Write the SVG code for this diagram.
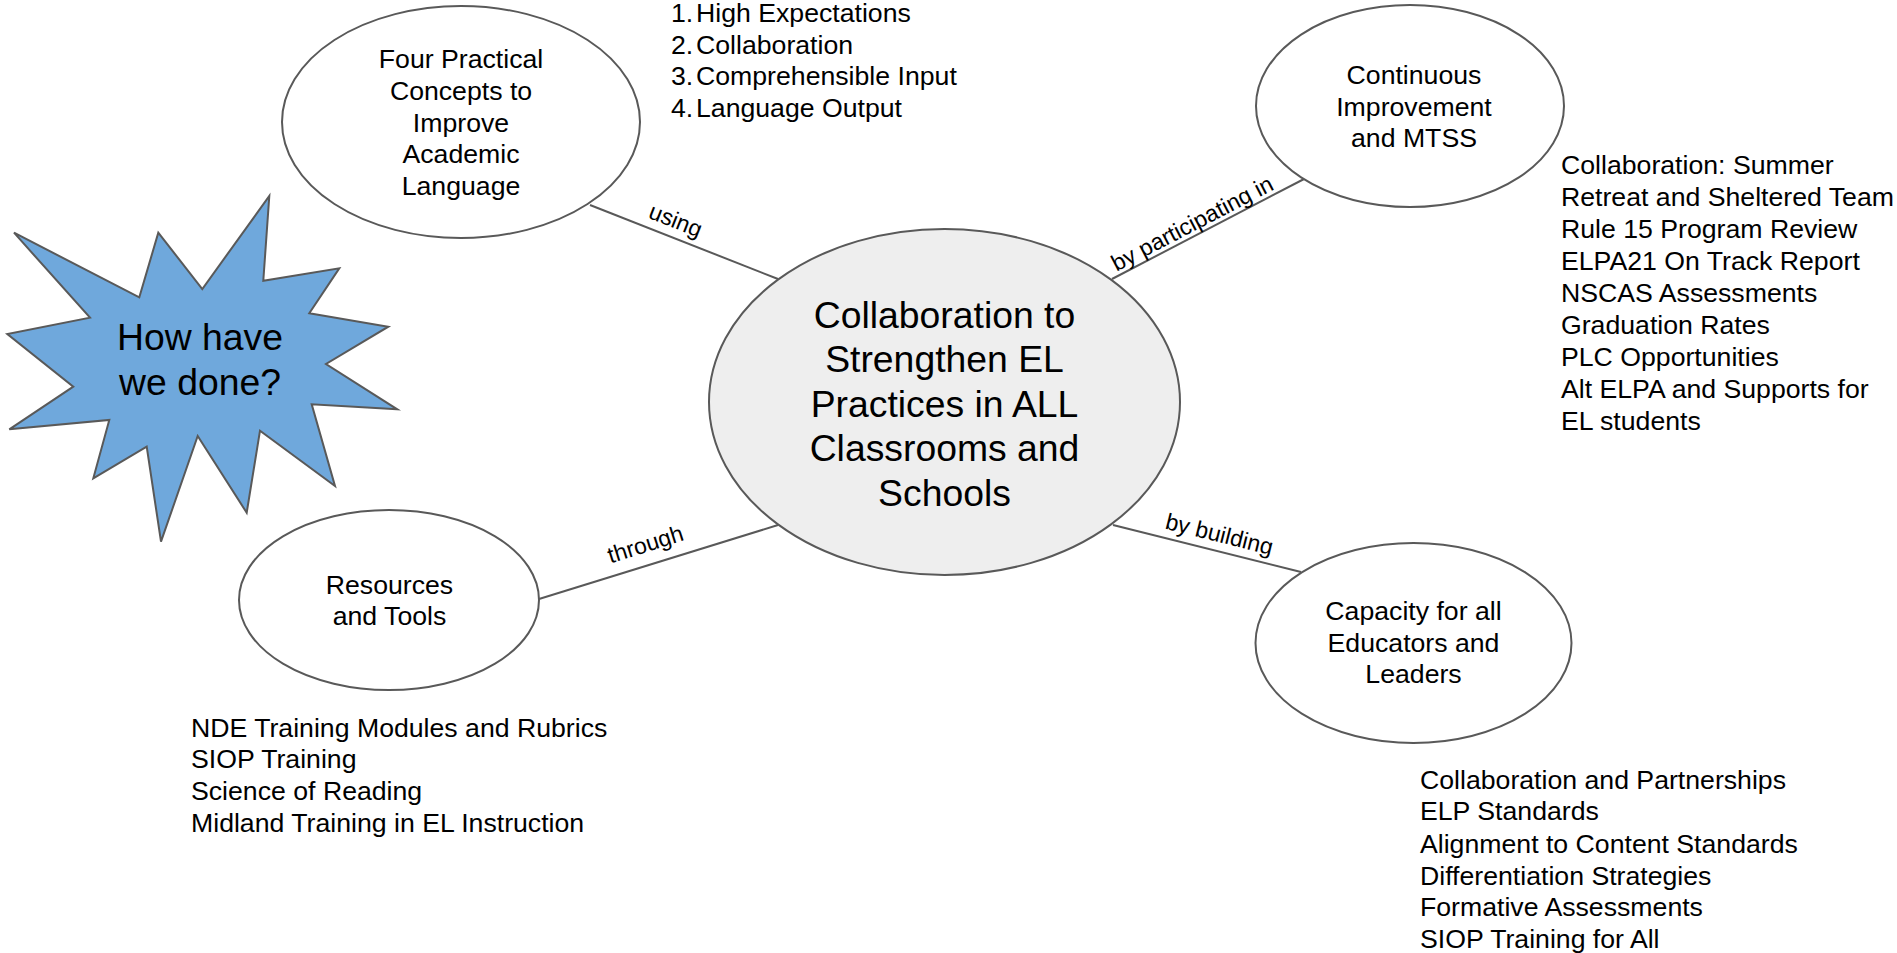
<svg xmlns="http://www.w3.org/2000/svg" width="1897" height="953" viewBox="0 0 1897 953">
  <style>
    text { font-family: "Liberation Sans", Arial, sans-serif; fill: #000; }
    .node { fill: #ffffff; stroke: #595959; stroke-width: 2; }
    .center { fill: #eeeeee; stroke: #595959; stroke-width: 2; }
    .star { fill: #6fa8dc; stroke: #595959; stroke-width: 2; stroke-linejoin: miter; }
    .edge { stroke: #595959; stroke-width: 2; fill: none; }
    .t { font-size: 26.67px; text-anchor: middle; }
    .big { font-size: 37.33px; text-anchor: middle; }
    .lbl { font-size: 23px; text-anchor: middle; }
    .list { font-size: 26.67px; }
  </style>
  <rect width="1897" height="953" fill="#ffffff"/>

  <g id="connectors">
    <line class="edge" x1="590" y1="205" x2="778" y2="279"/>
    <line class="edge" x1="1112" y1="279" x2="1306" y2="178"/>
    <line class="edge" x1="539" y1="599" x2="778" y2="525"/>
    <line class="edge" x1="1113" y1="525" x2="1301" y2="572"/>
    <text class="lbl" transform="translate(675 222) rotate(21.5)" y="6">using</text>
    <text class="lbl" transform="translate(1193 225) rotate(-27.5)" y="6">by participating in</text>
    <text class="lbl" transform="translate(646 546) rotate(-17.5)" y="6">through</text>
    <text class="lbl" transform="translate(1219 536) rotate(14)" y="6">by building</text>
  </g>

  <g id="star">
    <polygon class="star" points="269.3,196 263.3,280.7 339.3,268.3 309.3,313.3 388.3,326.7 326,364 397.3,409.3 311.7,404.3 335,486 260,430.7 246.7,512.7 197.7,436 161,541.7 146.7,446.7 93.3,478.3 109.3,420 9.3,429.3 73.3,386.7 7.3,334 90,317.7 14,232.7 139.3,297.3 158.3,232.7 202.3,289"/>
    <text class="big" x="200" y="350">How have</text>
    <text class="big" x="200" y="395">we done?</text>
  </g>

  <g id="node-four-concepts">
    <ellipse class="node" cx="461" cy="122" rx="179" ry="116"/>
    <text class="t" x="461" y="68">Four Practical</text>
    <text class="t" x="461" y="99.8">Concepts to</text>
    <text class="t" x="461" y="131.6">Improve</text>
    <text class="t" x="461" y="163.4">Academic</text>
    <text class="t" x="461" y="195.2">Language</text>
  </g>

  <g id="list-four-concepts">
    <text class="list" y="22"><tspan x="671">1.</tspan><tspan x="696">High Expectations</tspan></text>
    <text class="list" y="53.5"><tspan x="671">2.</tspan><tspan x="696">Collaboration</tspan></text>
    <text class="list" y="85"><tspan x="671">3.</tspan><tspan x="696">Comprehensible Input</tspan></text>
    <text class="list" y="116.5"><tspan x="671">4.</tspan><tspan x="696">Language Output</tspan></text>
  </g>

  <g id="node-continuous">
    <ellipse class="node" cx="1410" cy="106" rx="154" ry="101"/>
    <text class="t" x="1414" y="84">Continuous</text>
    <text class="t" x="1414" y="115.5">Improvement</text>
    <text class="t" x="1414" y="147">and MTSS</text>
  </g>

  <g id="list-continuous">
    <text class="list" x="1561" y="174">Collaboration: Summer</text>
    <text class="list" x="1561" y="206">Retreat and Sheltered Team</text>
    <text class="list" x="1561" y="238">Rule 15 Program Review</text>
    <text class="list" x="1561" y="270">ELPA21 On Track Report</text>
    <text class="list" x="1561" y="302">NSCAS Assessments</text>
    <text class="list" x="1561" y="334">Graduation Rates</text>
    <text class="list" x="1561" y="366">PLC Opportunities</text>
    <text class="list" x="1561" y="398">Alt ELPA and Supports for</text>
    <text class="list" x="1561" y="430">EL students</text>
  </g>

  <g id="node-center">
    <ellipse class="center" cx="944.5" cy="402" rx="235.5" ry="173"/>
    <text class="big" x="944.5" y="327.5">Collaboration to</text>
    <text class="big" x="944.5" y="372.1">Strengthen EL</text>
    <text class="big" x="944.5" y="416.7">Practices in ALL</text>
    <text class="big" x="944.5" y="461.3">Classrooms and</text>
    <text class="big" x="944.5" y="505.9">Schools</text>
  </g>

  <g id="node-resources">
    <ellipse class="node" cx="389" cy="600" rx="150" ry="90"/>
    <text class="t" x="389.5" y="593.5">Resources</text>
    <text class="t" x="389.5" y="625">and Tools</text>
  </g>

  <g id="list-resources">
    <text class="list" x="191" y="736.5">NDE Training Modules and Rubrics</text>
    <text class="list" x="191" y="768">SIOP Training</text>
    <text class="list" x="191" y="800">Science of Reading</text>
    <text class="list" x="191" y="832">Midland Training in EL Instruction</text>
  </g>

  <g id="node-capacity">
    <ellipse class="node" cx="1413.5" cy="643" rx="158" ry="100"/>
    <text class="t" x="1413.5" y="620">Capacity for all</text>
    <text class="t" x="1413.5" y="651.5">Educators and</text>
    <text class="t" x="1413.5" y="683">Leaders</text>
  </g>

  <g id="list-capacity">
    <text class="list" x="1420" y="788.5">Collaboration and Partnerships</text>
    <text class="list" x="1420" y="820">ELP Standards</text>
    <text class="list" x="1420" y="852.5">Alignment to Content Standards</text>
    <text class="list" x="1420" y="884.5">Differentiation Strategies</text>
    <text class="list" x="1420" y="916">Formative Assessments</text>
    <text class="list" x="1420" y="948">SIOP Training for All</text>
  </g>
</svg>
